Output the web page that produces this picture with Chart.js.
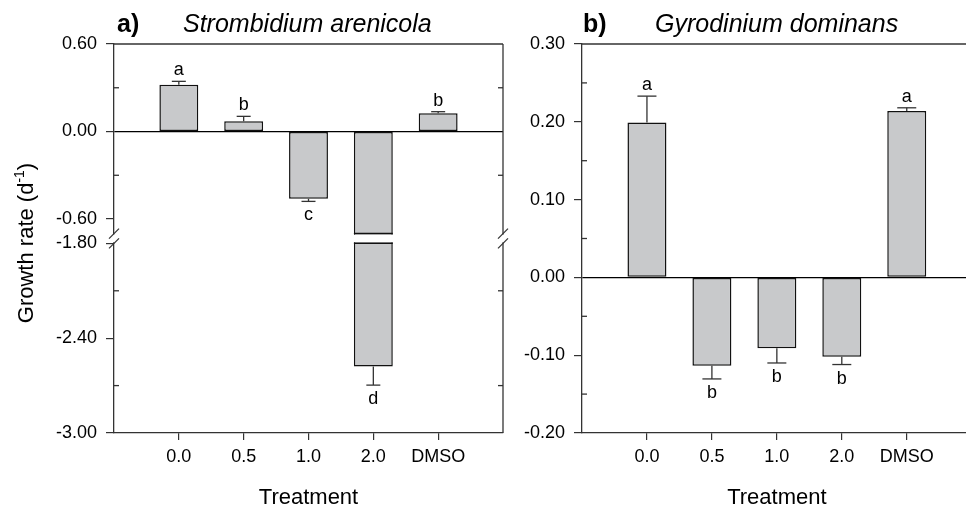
<!DOCTYPE html>
<html>
<head>
<meta charset="utf-8">
<script src="https://cdn.jsdelivr.net/npm/chart.js@4.4.1/dist/chart.umd.min.js"></script>
<style>
  html, body { margin: 0; padding: 0; background: #fff; overflow: hidden; }
  #wrap { position: relative; width: 966px; height: 507px; overflow: hidden; background: #fff; }
  canvas { position: absolute; top: 0; }
  #panelA { left: 0; }
  #panelB { left: 520px; }
</style>
</head>
<body>
<div id="wrap">
  <canvas id="panelA" width="520" height="507"></canvas>
  <canvas id="panelB" width="520" height="507"></canvas>
</div>
<script>
const treatments = ['0.0', '0.5', '1.0', '2.0', 'DMSO'];

// a) Strombidium arenicola
const strombRate = [0.321, 0.070, -0.461, -2.579, 0.125];
const strombErr = [0.023, 0.034, 0.018, 0.118, 0.011];
const strombLetters = ['a', 'b', 'c', 'd', 'b'];
const strombUpperTicks = [0.6, 0, -0.6];
const strombLowerTicks = [-1.8, -2.4, -3.0];
const strombUpperMinor = [0.3, -0.3];
const strombLowerMinor = [-2.1, -2.7];
const strombBreak = [-0.70, -1.80]; // axis break: end of upper part, start of lower part

// b) Gyrodinium dominans
const gyroRate = [0.199, -0.1135, -0.091, -0.102, 0.214];
const gyroErr = [0.034, 0.017, 0.019, 0.010, 0.004];
const gyroLetters = ['a', 'b', 'b', 'b', 'a'];
const gyroTicks = [0.3, 0.2, 0.1, 0, -0.1, -0.2];
const gyroMinor = [0.25, 0.15, 0.05, -0.05, -0.15];

const FONT = '"Liberation Sans", Arial, Helvetica, sans-serif';
const AXIS = '#333';
const BAR_FILL = '#c8c9cb';

Chart.defaults.font.family = FONT;
Chart.defaults.font.size = 18;
Chart.defaults.color = '#000';

const UPPER_MIN = -0.73;
const LOWER_MAX = -1.766;

function fixTicks(values) {
  return s => { s.ticks = values.map(v => ({ value: v })); };
}

function yScale(extra, ticks, width) {
  return Object.assign({
    type: 'linear',
    position: 'left',
    afterBuildTicks: fixTicks(ticks),
    afterFit: s => { s.width = width; },
    ticks: { padding: 9, callback: v => v.toFixed(2), font: { size: 18 } },
    grid: {
      drawOnChartArea: true,
      color: c => (c.tick && c.tick.value === 0 ? '#000' : 'rgba(0,0,0,0)'),
      tickColor: AXIS,
      tickLength: 8,
      lineWidth: 1.2
    },
    border: { color: AXIS, width: 1.3 }
  }, extra);
}

function xScale() {
  return {
    type: 'linear',
    min: -1,
    max: 5,
    offset: false,
    afterBuildTicks: fixTicks(treatments.map((t, i) => i)),
    afterFit: s => { s.height = 74; },
    ticks: { padding: 6, autoSkip: false, maxRotation: 0, callback: v => treatments[v] ?? '' },
    grid: { offset: false, drawOnChartArea: false, tickColor: AXIS, tickLength: 7, lineWidth: 1.2 },
    border: { color: AXIS, width: 1.3 }
  };
}

function barSet(values, yAxisID) {
  return {
    data: values.map((v, i) => ({ x: i, y: v })),
    yAxisID: yAxisID,
    backgroundColor: BAR_FILL,
    borderColor: '#111',
    borderWidth: 1.5,
    borderSkipped: false,
    grouped: false,
    barPercentage: 0.6,
    categoryPercentage: 1,
    clip: 0
  };
}

function line(ctx, x1, y1, x2, y2) {
  ctx.beginPath();
  ctx.moveTo(x1, y1);
  ctx.lineTo(x2, y2);
  ctx.stroke();
}

function drawTitle(ctx, x1, x2, label, species) {
  ctx.save();
  ctx.fillStyle = '#000';
  ctx.textBaseline = 'alphabetic';
  ctx.textAlign = 'left';
  ctx.font = 'bold 25px ' + FONT;
  ctx.fillText(label, x1, 32);
  ctx.font = 'italic 25px ' + FONT;
  ctx.fillText(species, x2, 32);
  ctx.restore();
}

function drawYTitle(ctx, cx, cy) {
  const parts = [
    ['Growth rate (d', '22px ' + FONT, 0],
    ['-1', '14px ' + FONT, -9],
    [')', '22px ' + FONT, 0]
  ];
  ctx.save();
  ctx.translate(cx, cy);
  ctx.rotate(-Math.PI / 2);
  ctx.fillStyle = '#000';
  ctx.textBaseline = 'alphabetic';
  ctx.textAlign = 'left';
  let w = 0;
  parts.forEach(p => { ctx.font = p[1]; w += ctx.measureText(p[0]).width; });
  let x = -w / 2;
  parts.forEach(p => {
    ctx.font = p[1];
    ctx.fillText(p[0], x, p[2]);
    x += ctx.measureText(p[0]).width;
  });
  ctx.restore();
}

// frame, minor ticks, error bars, letters and the axis break
function panelPlugin(p) {
  return {
    id: 'panel' + p.id,
    afterDatasetsDraw(chart) {
      const ctx = chart.ctx;
      const a = chart.chartArea;
      const meta = chart.getDatasetMeta(0);
      const scaleFor = v => (p.lowerAxis && v < UPPER_MIN ? chart.scales[p.lowerAxis] : chart.scales.y);
      ctx.save();
      ctx.strokeStyle = AXIS;
      ctx.lineWidth = 1.3;
      // top and right frame
      line(ctx, a.left, a.top, a.right, a.top);
      line(ctx, a.right, a.top, a.right, a.bottom);
      // inward minor ticks
      p.minor.forEach(([axis, vals]) => {
        const s = chart.scales[axis];
        vals.forEach(v => {
          const py = s.getPixelForValue(v);
          line(ctx, a.left, py, a.left + 5, py);
          line(ctx, a.right, py, a.right - 5, py);
        });
      });

      // axis break
      if (p.lowerAxis) {
        const yTop = chart.scales.y.getPixelForValue(strombBreak[0]);
        const yBot = chart.scales[p.lowerAxis].getPixelForValue(strombBreak[1]);
        ctx.fillStyle = '#fff';
        ctx.fillRect(a.left - 6, yTop + 1, a.right - a.left + 13, yBot - yTop - 2);
        ctx.strokeStyle = '#111';
        ctx.lineWidth = 1.5;
        p.values.forEach((v, i) => {
          if (v >= UPPER_MIN) return;
          const bar = meta.data[i];
          const hw = bar.width / 2;
          line(ctx, bar.x - hw, yTop, bar.x + hw, yTop);
          line(ctx, bar.x - hw, yBot, bar.x + hw, yBot);
        });
        ctx.strokeStyle = AXIS;
        ctx.lineWidth = 1.2;
        [a.left, a.right].forEach(ax => {
          [yTop, yBot].forEach(yy => line(ctx, ax - 5, yy + 5, ax + 5, yy - 5));
        });
      }

      // error bars and letters
      ctx.strokeStyle = AXIS;
      ctx.lineWidth = 1.3;
      ctx.fillStyle = '#000';
      ctx.font = '18px ' + FONT;
      ctx.textAlign = 'center';
      ctx.textBaseline = 'alphabetic';
      p.values.forEach((v, i) => {
        const bar = meta.data[i];
        const end = v + Math.sign(v) * p.errors[i];
        const s = scaleFor(v);
        const y0 = s.getPixelForValue(v);
        const y1 = s.getPixelForValue(end);
        line(ctx, bar.x, y0, bar.x, y1);
        line(ctx, bar.x - p.cap / 2, y1, bar.x + p.cap / 2, y1);
        const ty = v >= 0 ? y1 - 6 : y1 + 19;
        ctx.fillText(p.letters[i], bar.x, ty);
      });
      ctx.restore();
    },
    afterDraw(chart) {
      const ctx = chart.ctx;
      const a = chart.chartArea;
      drawTitle(ctx, p.titleX[0], p.titleX[1], p.label, p.species);
      if (p.yTitle) drawYTitle(ctx, 33, 243);
      ctx.save();
      ctx.fillStyle = '#000';
      ctx.font = '22px ' + FONT;
      ctx.textAlign = 'center';
      ctx.textBaseline = 'alphabetic';
      ctx.fillText('Treatment', (a.left + a.right) / 2, 504);
      ctx.restore();
    }
  };
}

const baseOptions = {
  responsive: false,
  animation: false,
  events: [],
  plugins: { legend: { display: false }, tooltip: { enabled: false } }
};

// panel a: two stacked y axes give the broken axis
new Chart(document.getElementById('panelA'), {
  type: 'bar',
  data: {
    datasets: [
      barSet(strombRate, 'y'),
      barSet(strombRate.map(v => (v < UPPER_MIN ? v : null)), 'y2')
    ]
  },
  options: Object.assign({}, baseOptions, {
    layout: { padding: { top: 44, right: 17, bottom: 0, left: 0 } },
    scales: {
      x: xScale(),
      y: yScale({ min: UPPER_MIN, max: 0.6, stack: 'a', stackWeight: 194, weight: 1 }, strombUpperTicks, 114),
      y2: yScale({ min: -3.0, max: LOWER_MAX, stack: 'a', stackWeight: 195, weight: 0 }, strombLowerTicks, 114)
    }
  }),
  plugins: [panelPlugin({
    id: 'A',
    values: strombRate,
    errors: strombErr,
    letters: strombLetters,
    cap: 14,
    lowerAxis: 'y2',
    minor: [['y', strombUpperMinor], ['y2', strombLowerMinor]],
    label: 'a)',
    species: 'Strombidium arenicola',
    titleX: [117, 183],
    yTitle: true
  })]
});

new Chart(document.getElementById('panelB'), {
  type: 'bar',
  data: { datasets: [barSet(gyroRate, 'y')] },
  options: Object.assign({}, baseOptions, {
    layout: { padding: { top: 44, right: 68.3, bottom: 0, left: 0 } },
    scales: {
      x: xScale(),
      y: yScale({ min: -0.2, max: 0.3 }, gyroTicks, 62)
    }
  }),
  plugins: [panelPlugin({
    id: 'B',
    values: gyroRate,
    errors: gyroErr,
    letters: gyroLetters,
    cap: 19,
    lowerAxis: null,
    minor: [['y', gyroMinor]],
    label: 'b)',
    species: 'Gyrodinium dominans',
    titleX: [63, 135],
    yTitle: false
  })]
});
</script>
</body>
</html>
